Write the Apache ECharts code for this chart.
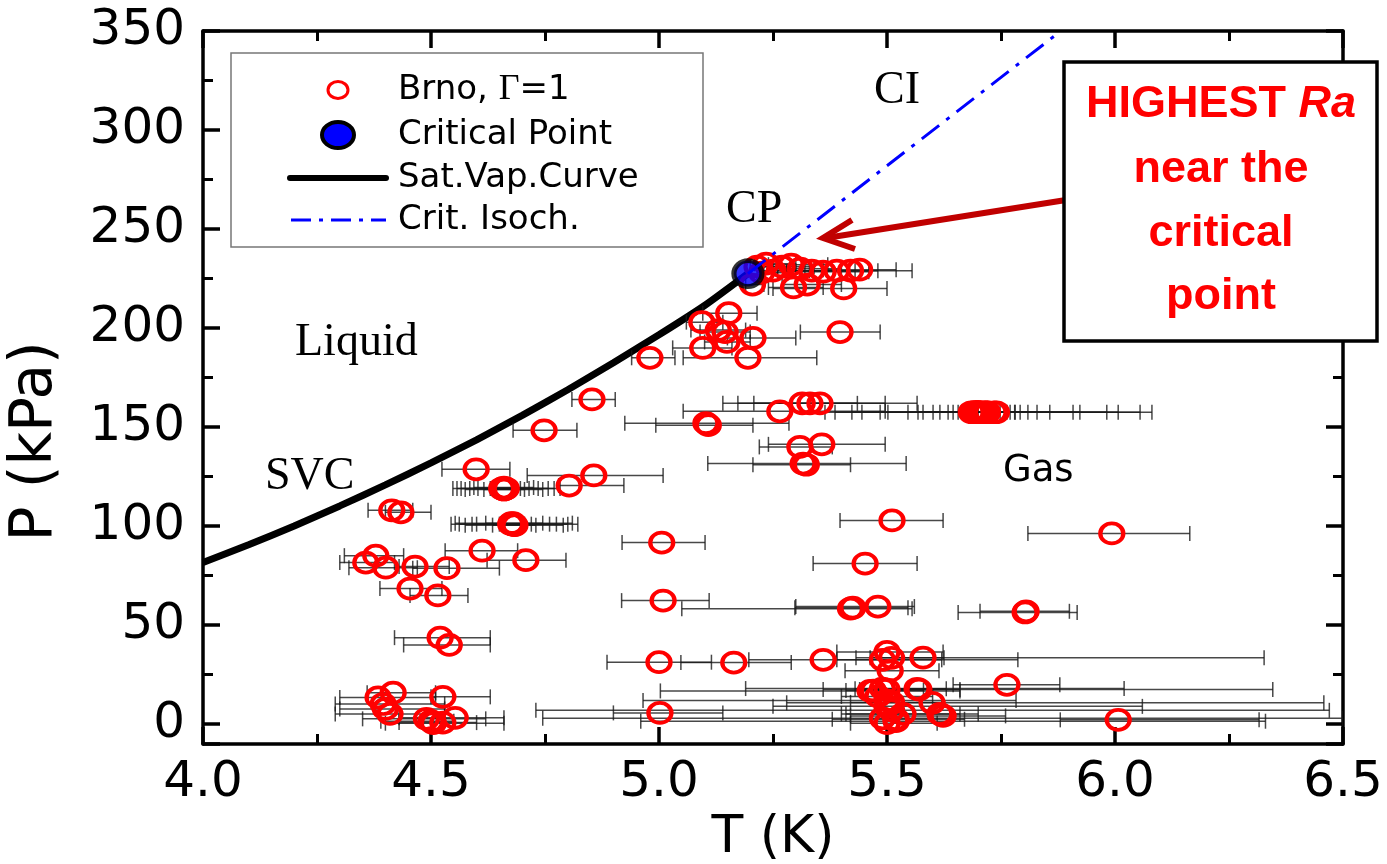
<!DOCTYPE html>
<html>
<head>
<meta charset="utf-8">
<title>Helium P-T diagram</title>
<script src="https://cdn.jsdelivr.net/npm/echarts@6/dist/echarts.min.js"></script>
<style>
  html, body { margin: 0; padding: 0; background: #fff; }
  #chart { width: 1387px; height: 864px; }
</style>
</head>
<body>
<div id="chart"></div>
<script>
// Brno measurements: [T (K), P (kPa), T low end of error bar, T high end]
const brnoPoints = [
  // around the critical point
  [5.215, 231, 5.20, 5.26], [5.235, 232.5, 5.21, 5.30], [5.25, 229, 5.22, 5.32],
  [5.27, 231, 5.23, 5.34], [5.29, 232, 5.24, 5.37], [5.31, 230, 5.25, 5.40],
  [5.335, 229, 5.26, 5.43], [5.36, 228.5, 5.28, 5.46], [5.39, 229, 5.30, 5.48],
  [5.42, 229, 5.33, 5.555], [5.44, 229.5, 5.36, 5.52], [5.225, 228, 5.215, 5.28],
  [5.205, 222, 5.19, 5.23], [5.295, 220.5, 5.24, 5.36], [5.325, 222, 5.27, 5.40],
  [5.405, 220, 5.25, 5.50],
  // 185-210 kPa
  [5.153, 207.5, 5.096, 5.215], [5.094, 203, 5.06, 5.14], [5.13, 199, 5.07, 5.19],
  [5.145, 198, 5.09, 5.20], [5.206, 195, 5.15, 5.30], [5.149, 193, 5.10, 5.20],
  [5.096, 190, 5.03, 5.16], [5.195, 185, 5.053, 5.346], [4.98, 185, 4.94, 5.035],
  [5.397, 198, 5.31, 5.485],
  // below the SVC
  [4.853, 164, 4.809, 4.904], [4.748, 148.4, 4.68, 4.82], [4.599, 128.7, 4.524, 4.673],
  [4.857, 125.6, 4.711, 5.009], [4.803, 120.5, 4.78, 4.923],
  [4.655, 119, 4.548, 4.783], [4.66, 119, 4.557, 4.77], [4.662, 119, 4.566, 4.757],
  [4.66, 118.5, 4.575, 4.745], [4.665, 119, 4.585, 4.735], [4.66, 119.5, 4.594, 4.725],
  [4.658, 119, 4.603, 4.715], [4.66, 118.5, 4.616, 4.705], [4.663, 119, 4.63, 4.696],
  [4.434, 107, 4.40, 4.50], [4.414, 108, 4.362, 4.46],
  [4.678, 101, 4.544, 4.822], [4.68, 101.5, 4.553, 4.81], [4.675, 101, 4.562, 4.80],
  [4.682, 100.5, 4.575, 4.79], [4.678, 101, 4.59, 4.775], [4.68, 101, 4.60, 4.76],
  [4.676, 101.5, 4.62, 4.745], [4.684, 100.5, 4.635, 4.73], [4.68, 101, 4.65, 4.72],
  [4.678, 101, 4.66, 4.705],
  [5.006, 91.7, 4.919, 5.101], [4.612, 87.6, 4.531, 4.69], [4.379, 85.1, 4.31, 4.44],
  [4.708, 82.8, 4.623, 4.796], [4.357, 81.6, 4.30, 4.42], [4.401, 79, 4.32, 4.47],
  [4.465, 79.6, 4.43, 4.54], [4.535, 78.8, 4.46, 4.65], [4.454, 68.5, 4.388, 4.524],
  [4.515, 65, 4.454, 4.581], [4.52, 43.7, 4.42, 4.63], [4.54, 40, 4.44, 4.63],
  // low pressure, low temperature
  [4.417, 15.9, 4.36, 4.51], [4.384, 13.5, 4.30, 4.51], [4.395, 10.2, 4.29, 4.53],
  [4.40, 7.7, 4.30, 4.53], [4.41, 5.2, 4.29, 4.53], [4.526, 13.8, 4.50, 4.63],
  [4.553, 3.2, 4.43, 4.66], [4.49, 2.7, 4.35, 4.62], [4.505, 0.5, 4.40, 4.66],
  [4.526, 0.8, 4.43, 4.60], [4.50, 1.5, 4.39, 4.55],
  // gas side, 130-165 kPa
  [5.265, 158, 5.053, 5.496], [5.314, 162, 5.14, 5.566], [5.331, 162, 5.173, 5.496],
  [5.353, 162, 5.208, 5.435],
  [5.72, 157.5, 5.364, 6.081], [5.72, 157.5, 5.386, 6.055], [5.715, 157.5, 5.423, 6.007],
  [5.71, 157.5, 5.445, 5.982], [5.70, 157.5, 5.485, 5.923], [5.705, 157.5, 5.502, 5.908],
  [5.70, 157.5, 5.546, 5.857], [5.698, 157.5, 5.568, 5.829], [5.69, 157.5, 5.579, 5.809],
  [5.695, 157.5, 5.601, 5.792], [5.70, 157.5, 5.616, 5.781], [5.70, 157.5, 5.634, 5.763],
  [5.695, 157.5, 5.645, 5.748], [5.69, 157.5, 5.656, 5.73], [5.685, 157.5, 5.664, 5.719],
  [5.735, 157.5, 5.70, 5.77], [5.74, 157.5, 5.71, 5.78],
  [5.103, 152, 4.925, 5.285], [5.108, 151, 4.993, 5.206], [5.309, 140, 5.22, 5.38],
  [5.357, 141.3, 5.24, 5.496], [5.316, 131.6, 5.107, 5.542], [5.323, 131, 5.206, 5.42],
  // gas side, 55-105 kPa
  [5.511, 102.9, 5.397, 5.623], [5.993, 96.3, 5.809, 6.164], [5.452, 81.1, 5.338, 5.566],
  [5.009, 62.4, 4.918, 5.11], [5.42, 58.3, 5.05, 5.555], [5.425, 58.8, 5.298, 5.546],
  [5.48, 59.4, 5.30, 5.56], [5.803, 56.4, 5.656, 5.917], [5.805, 57, 5.704, 5.90],
  // gas side, below 40 kPa
  [5.0, 31.3, 4.886, 5.115], [5.164, 31.1, 5.048, 5.29], [5.36, 32.5, 5.197, 5.787],
  [5.50, 36.5, 5.39, 5.623], [5.51, 33.5, 5.432, 6.327], [5.49, 32.5, 5.39, 5.62],
  [5.579, 33.6, 5.463, 5.625], [5.507, 27, 5.408, 5.614], [5.463, 16.8, 5.003, 5.66],
  [5.49, 18, 5.19, 6.02], [5.50, 17.5, 5.36, 6.346], [5.566, 17.9, 5.43, 5.63],
  [5.57, 17.5, 5.44, 5.66], [5.763, 19.9, 5.645, 5.879], [5.599, 10.8, 5.28, 6.458],
  [5.50, 12, 4.965, 5.783], [5.002, 5.7, 4.90, 5.14], [5.50, 9, 5.25, 6.06],
  [5.51, 7, 4.73, 6.47], [5.49, 3, 4.745, 6.50], [5.52, 1.5, 4.96, 6.33],
  [5.535, 5.2, 5.40, 5.66], [5.616, 5.2, 5.41, 5.70], [5.623, 4.2, 5.42, 5.76],
  [5.50, 0.5, 5.42, 5.61], [6.007, 2.2, 5.88, 6.316], [5.51, 11, 5.42, 5.62],
  [5.48, 14, 5.40, 5.60], [5.52, 2.5, 5.38, 5.67], [5.47, 17, 5.41, 5.58]
];

// critical point of He-4
const criticalPoint = [5.195, 227.5];

// saturated vapour curve
const svcT = [4.0, 4.1, 4.2, 4.3, 4.4, 4.5, 4.6, 4.7, 4.8, 4.9, 5.0, 5.1, 5.195];
const svcP = [81.6, 90.6, 100.1, 110.2, 120.8, 131.9, 143.6, 155.9, 168.9, 182.5, 196.6, 211.4, 227.5];

// critical isochore
const isochT = [5.195, 5.87];
const isochP = [227.5, 348];

const chart = echarts.init(document.getElementById('chart'));

const sans = 'DejaVu Sans';
const serif = 'Liberation Serif';

function errorBar(params, api) {
  const y = api.value(1);
  const a = api.coord([api.value(2), y]);
  const b = api.coord([api.value(3), y]);
  const cap = 7.5;
  const st = {stroke: '#1a1a1a', lineWidth: 1.5, opacity: 0.8};
  return {
    type: 'group',
    children: [
      {type: 'line', shape: {x1: a[0], y1: a[1], x2: b[0], y2: b[1]}, style: st},
      {type: 'line', shape: {x1: a[0], y1: a[1] - cap, x2: a[0], y2: a[1] + cap}, style: st},
      {type: 'line', shape: {x1: b[0], y1: b[1] - cap, x2: b[0], y2: b[1] + cap}, style: st}
    ]
  };
}

const axisLine = {show: true, onZero: false, lineStyle: {color: '#000', width: 3.5}};
const tick = {show: true, inside: true, length: 17, lineStyle: {color: '#000', width: 3.5}};
const minor = {show: true, splitNumber: 2, length: 10, lineStyle: {color: '#000', width: 3}};

const option = {
  animation: false,
  backgroundColor: '#fff',
  grid: {left: 203, right: 44, top: 31, bottom: 120, containLabel: false, outerBoundsMode: 'none'},
  xAxis: [
    {
      type: 'value', min: 4.0, max: 6.5, interval: 0.5,
      axisLine: axisLine, axisTick: tick, minorTick: minor,
      splitLine: {show: false},
      axisLabel: {
        margin: 14, color: '#000', fontFamily: sans, fontSize: 50,
        formatter: v => v.toFixed(1)
      },
      name: 'T (K)', nameLocation: 'middle', nameGap: 68,
      nameTextStyle: {color: '#000', fontFamily: sans, fontSize: 52}
    },
    {
      type: 'value', position: 'top', min: 4.0, max: 6.5, interval: 0.5,
      axisLine: axisLine, axisTick: tick, minorTick: minor,
      splitLine: {show: false}, axisLabel: {show: false}
    }
  ],
  yAxis: [
    {
      type: 'value', min: -10, max: 350, splitNumber: 7,
      axisLine: axisLine, axisTick: tick, minorTick: minor,
      splitLine: {show: false},
      axisLabel: {
        margin: 18, color: '#000', fontFamily: sans, fontSize: 50,
        formatter: v => (v % 50 === 0 ? String(v) : '')
      },
      name: 'P (kPa)', nameLocation: 'middle', nameGap: 138,
      nameTextStyle: {color: '#000', fontFamily: sans, fontSize: 58, padding: [0, 108, 0, 0]}
    },
    {
      type: 'value', position: 'right', min: -10, max: 350, splitNumber: 7,
      axisLine: axisLine, axisTick: tick, minorTick: minor,
      splitLine: {show: false}, axisLabel: {show: false}
    }
  ],
  series: [
    {
      name: 'Sat.Vap.Curve',
      type: 'line',
      data: svcT.map((t, i) => [t, svcP[i]]),
      showSymbol: false, symbol: 'none', smooth: 0.2,
      lineStyle: {color: '#000', width: 7},
      z: 3
    },
    {
      name: 'error',
      type: 'custom',
      renderItem: errorBar,
      data: brnoPoints,
      encode: {x: [0, 2, 3], y: 1},
      clip: true,
      z: 4
    },
    {
      name: 'Brno, Γ=1',
      type: 'scatter',
      data: brnoPoints.map(d => [d[0], d[1]]),
      symbol: 'circle', symbolSize: [23, 20],
      itemStyle: {color: 'rgba(255,255,255,0)', borderColor: '#ff0000', borderWidth: 4, opacity: 1},
      z: 5
    },
    {
      name: 'Critical Point',
      type: 'scatter',
      data: [criticalPoint],
      symbol: 'circle', symbolSize: [28, 26],
      itemStyle: {color: '#0000ff', borderColor: '#000', borderWidth: 5},
      z: 6
    },
    {
      name: 'Crit. Isoch.',
      type: 'line',
      data: isochT.map((t, i) => [t, isochP[i]]),
      showSymbol: false, symbol: 'none',
      lineStyle: {color: '#0000ff', width: 3, type: [22, 9, 4, 9]},
      z: 7
    }
  ],
  graphic: [
    // legend box
    {type: 'rect', shape: {x: 231, y: 53, width: 472, height: 194},
      style: {fill: '#fff', stroke: '#777', lineWidth: 1.5}, z: 20},
    {type: 'ellipse', shape: {cx: 338, cy: 90, rx: 10, ry: 8.5},
      style: {fill: 'none', stroke: '#ff0000', lineWidth: 3}, z: 21},
    {type: 'ellipse', shape: {cx: 338, cy: 135, rx: 16, ry: 13},
      style: {fill: '#0000ff', stroke: '#000', lineWidth: 4}, z: 21},
    {type: 'line', shape: {x1: 290, y1: 178, x2: 386, y2: 178},
      style: {stroke: '#000', lineWidth: 6, lineCap: 'round'}, z: 21},
    {type: 'line', shape: {x1: 291, y1: 220, x2: 386, y2: 220},
      style: {stroke: '#0000ff', lineWidth: 3, lineDash: [20, 8, 4, 8]}, z: 21},
    {type: 'text', x: 398, y: 90, z: 21,
      style: {text: 'Brno, {g|Γ}=1', fill: '#000', font: '34px "DejaVu Sans"', verticalAlign: 'middle',
        rich: {g: {fontFamily: serif, fontSize: 36, fill: '#000'}}}},
    {type: 'text', x: 398, y: 135, z: 21,
      style: {text: 'Critical Point', fill: '#000', font: '34px "DejaVu Sans"', verticalAlign: 'middle'}},
    {type: 'text', x: 398, y: 178, z: 21,
      style: {text: 'Sat.Vap.Curve', fill: '#000', font: '34px "DejaVu Sans"', verticalAlign: 'middle'}},
    {type: 'text', x: 398, y: 220, z: 21,
      style: {text: 'Crit. Isoch.', fill: '#000', font: '34px "DejaVu Sans"', verticalAlign: 'middle'}},
    // region labels
    {type: 'text', x: 295, y: 343, z: 21,
      style: {text: 'Liquid', fill: '#000', font: '46px "Liberation Serif"', verticalAlign: 'middle'}},
    {type: 'text', x: 265, y: 477, z: 21,
      style: {text: 'SVC', fill: '#000', font: '46px "Liberation Serif"', verticalAlign: 'middle'}},
    {type: 'text', x: 726, y: 210, z: 21,
      style: {text: 'CP', fill: '#000', font: '46px "Liberation Serif"', verticalAlign: 'middle'}},
    {type: 'text', x: 874, y: 91, z: 21,
      style: {text: 'CI', fill: '#000', font: '46px "Liberation Serif"', verticalAlign: 'middle'}},
    {type: 'text', x: 1003, y: 471, z: 21,
      style: {text: 'Gas', fill: '#000', font: '37px "DejaVu Sans"', verticalAlign: 'middle'}},
    // arrow
    {type: 'line', shape: {x1: 1066, y1: 200, x2: 826, y2: 238},
      style: {stroke: '#c00000', lineWidth: 6}, z: 22},
    {type: 'polyline', shape: {points: [[852, 220], [823, 238], [855, 249]]},
      style: {stroke: '#c00000', lineWidth: 6, fill: null, lineJoin: 'miter'}, z: 22},
    // annotation box
    {type: 'rect', shape: {x: 1064, y: 62, width: 313, height: 279},
      style: {fill: '#fff', stroke: '#000', lineWidth: 3.5}, z: 23},
    {type: 'text', x: 1221, y: 105, z: 24,
      style: {text: '{b|HIGHEST }{i|Ra}', align: 'center', verticalAlign: 'middle',
        rich: {
          b: {fill: '#ff0000', fontFamily: 'Liberation Sans', fontWeight: 'bold', fontSize: 45},
          i: {fill: '#ff0000', fontFamily: 'Liberation Sans', fontWeight: 'bold', fontStyle: 'italic', fontSize: 45}
        }}},
    {type: 'text', x: 1221, y: 170, z: 24,
      style: {text: 'near the', fill: '#ff0000', font: 'bold 45px "Liberation Sans"', align: 'center', verticalAlign: 'middle'}},
    {type: 'text', x: 1221, y: 234, z: 24,
      style: {text: 'critical', fill: '#ff0000', font: 'bold 45px "Liberation Sans"', align: 'center', verticalAlign: 'middle'}},
    {type: 'text', x: 1221, y: 297, z: 24,
      style: {text: 'point', fill: '#ff0000', font: 'bold 45px "Liberation Sans"', align: 'center', verticalAlign: 'middle'}}
  ]
};

chart.setOption(option);
</script>
</body>
</html>
